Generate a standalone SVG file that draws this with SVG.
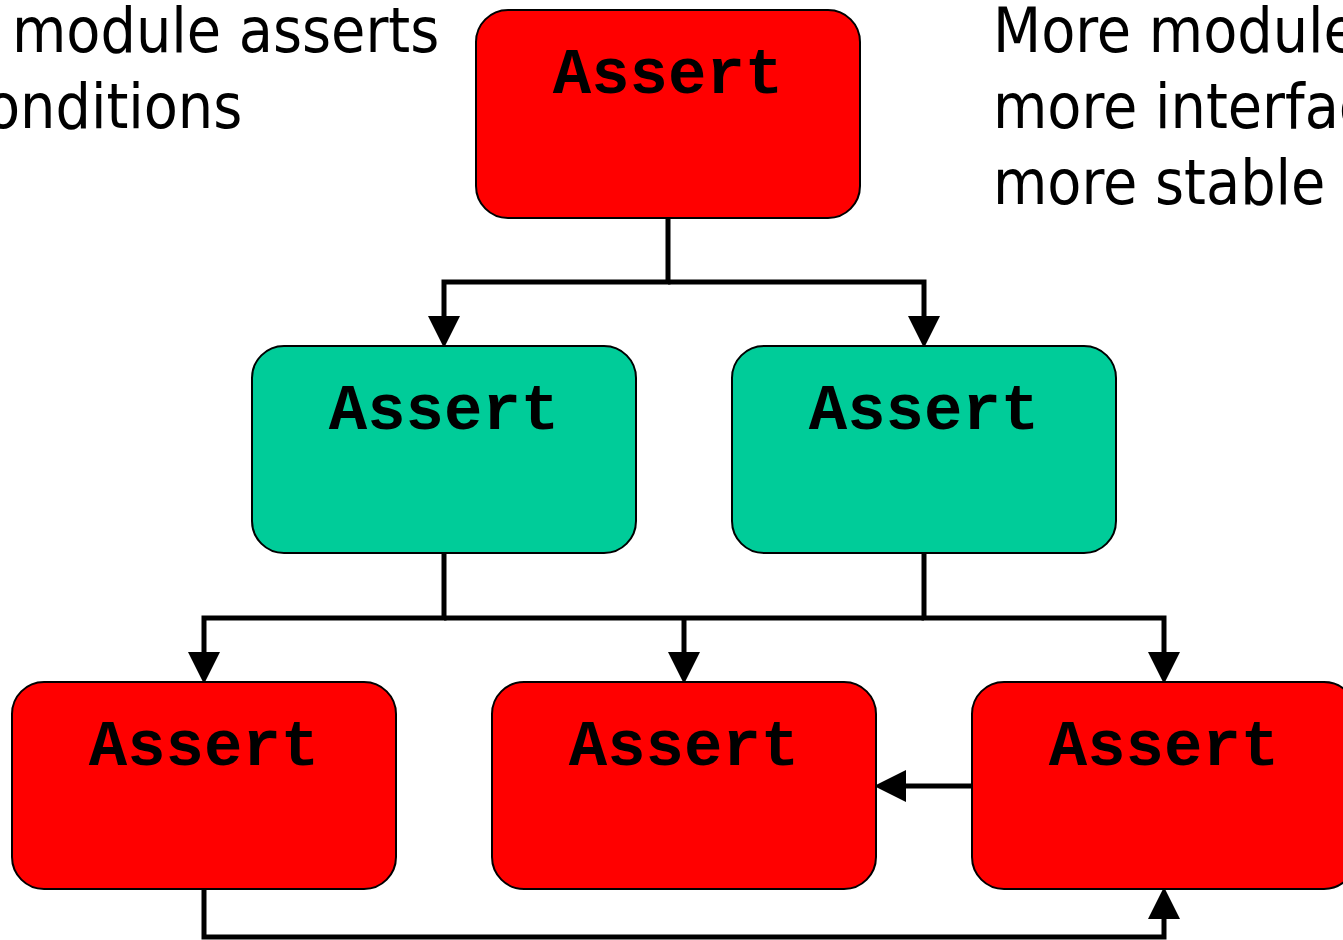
<svg xmlns="http://www.w3.org/2000/svg" width="1343" height="940" viewBox="0 0 1343 940">
<style>
.box{stroke:#000;stroke-width:2}
.red{fill:#FF0000}
.green{fill:#00CC99}
.lbl{font-family:"Liberation Mono","Courier New",monospace;font-weight:bold;font-size:64px;fill:#000;text-anchor:middle}
.note{font-family:"DejaVu Sans Condensed","Liberation Sans",sans-serif;font-stretch:condensed;font-size:62px;fill:#000}
.conn{fill:none;stroke:#000;stroke-width:5}
</style>
<defs>
<marker id="ah" markerUnits="userSpaceOnUse" markerWidth="32" markerHeight="32" refX="0" refY="15" orient="auto" viewBox="0 0 30 30">
<path d="M0,0 L30,15 L0,30 z" fill="#000"/>
</marker>
</defs>
<rect width="1343" height="940" fill="#fff"/>
<g id="notes">
<text class="note" x="12" y="52">module asserts</text>
<text class="note" x="-14" y="128">onditions</text>
<text class="note" x="993" y="52">More module</text>
<text class="note" x="993" y="128">more interfac</text>
<text class="note" x="993" y="204">more stable</text>
</g>
<g id="connectors">
<path class="conn" d="M668,218 V282 H444 V316" marker-end="url(#ah)"/>
<path class="conn" d="M668,282 H924 V316" marker-end="url(#ah)"/>
<path class="conn" d="M444,553 V618 H204 V652" marker-end="url(#ah)"/>
<path class="conn" d="M924,553 V618 H1164 V652" marker-end="url(#ah)"/>
<path class="conn" d="M444,618 H924"/>
<path class="conn" d="M684,618 V652" marker-end="url(#ah)"/>
<path class="conn" d="M972,786 H906" marker-end="url(#ah)"/>
<path class="conn" d="M204,889 V937 H1164 V919" marker-end="url(#ah)"/>
</g>
<g id="n-top">
<rect class="box red" x="476" y="10" width="384" height="208" rx="32"/>
<text class="lbl" x="668" y="93">Assert</text>
</g>
<g id="n-mid-left">
<rect class="box green" x="252" y="346" width="384" height="207" rx="32"/>
<text class="lbl" x="444" y="429">Assert</text>
</g>
<g id="n-mid-right">
<rect class="box green" x="732" y="346" width="384" height="207" rx="32"/>
<text class="lbl" x="924" y="429">Assert</text>
</g>
<g id="n-bot-left">
<rect class="box red" x="12" y="682" width="384" height="207" rx="32"/>
<text class="lbl" x="204" y="765">Assert</text>
</g>
<g id="n-bot-mid">
<rect class="box red" x="492" y="682" width="384" height="207" rx="32"/>
<text class="lbl" x="684" y="765">Assert</text>
</g>
<g id="n-bot-right">
<rect class="box red" x="972" y="682" width="384" height="207" rx="32"/>
<text class="lbl" x="1164" y="765">Assert</text>
</g>
</svg>
